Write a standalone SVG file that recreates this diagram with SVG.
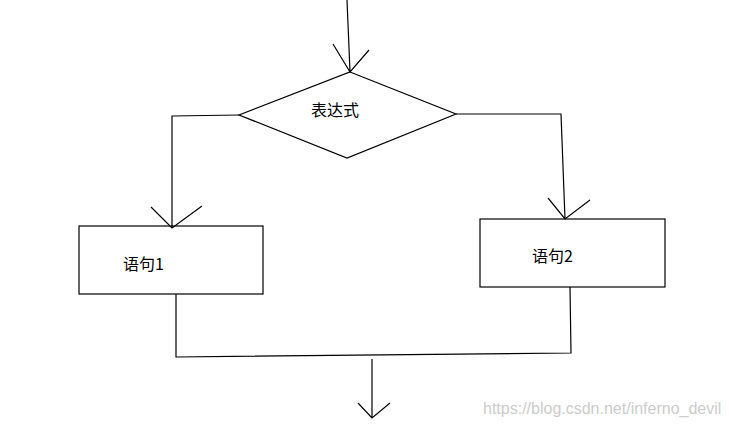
<svg xmlns="http://www.w3.org/2000/svg" width="729" height="425" viewBox="0 0 729 425">
<style>
.l{fill:none;stroke:#000;stroke-width:1.2}
.t{font-family:"Noto Sans CJK SC","Liberation Sans",sans-serif;font-size:16px;fill:#000}
</style>
<rect width="729" height="425" fill="#fff"/>
<g id="connectors">
<path class="l" d="M347,0 L350,72 M333,44 L350,72 L369,50"/>
<path class="l" d="M239,115 L172,116 L172,228 M151,207 L172,228 L202,206"/>
<path class="l" d="M456,114 L561,114 L565,219 M548,198 L565,219 L590,200"/>
<path class="l" d="M176,294 L176,357 L571,353 L570,287"/>
<path class="l" d="M372,359 L372,418 M358,403 L372,418 L390,403"/>
</g>
<g id="decision"><polygon class="l" points="350,72 456,114 347,158 239,115"/><text class="t" x="311" y="116">表达式</text></g>
<g id="stmt1"><rect class="l" x="79" y="226" width="184" height="68"/><text class="t" x="123" y="270">语句1</text></g>
<g id="stmt2"><rect class="l" x="480" y="219" width="185" height="68"/><text class="t" x="532" y="262">语句2</text></g>
<text x="483" y="414" font-family="Liberation Sans,sans-serif" font-size="16" fill="#ccc">https://blog.csdn.net/inferno_devil</text>
</svg>
